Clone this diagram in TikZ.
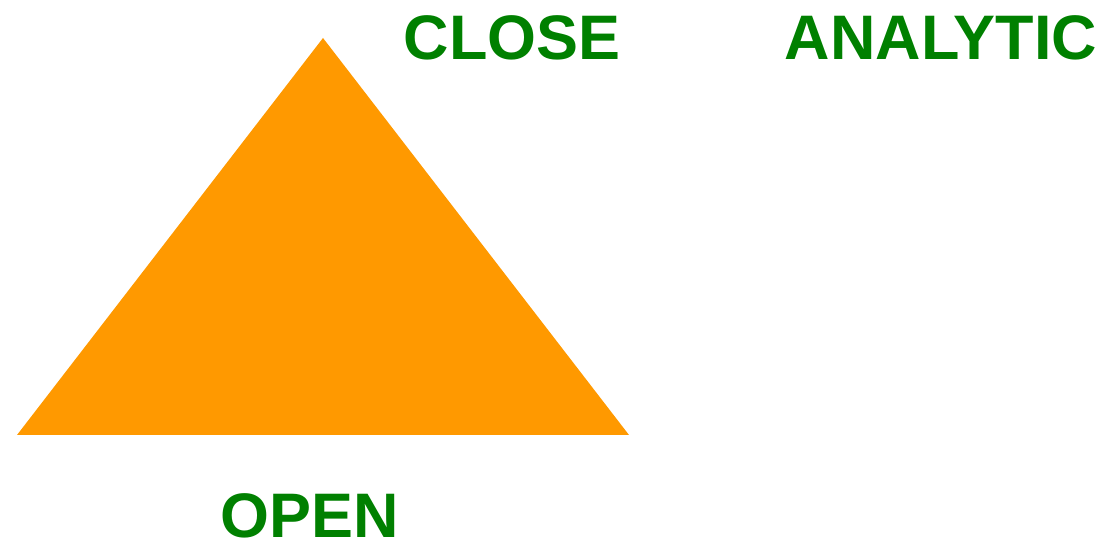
\documentclass[tikz,border=0pt]{standalone}
\usepackage{fontspec}
\setmainfont{Liberation Sans}
\usepackage{tikz}
\usepackage{xcolor}
\usetikzlibrary{positioning}
\definecolor{warmorange}{RGB}{255, 153, 0}
\definecolor{labelgreen}{RGB}{0, 128, 0}

\begin{document}
\begin{tikzpicture}[x=0.02cm, y=-0.02cm,
    cornerlabel/.style={text=labelgreen, anchor=base, inner sep=0pt, font=\fontsize{35.8}{40}\selectfont\bfseries}]
        \useasboundingbox (0,0) rectangle (1109,546);

        % Triangle
        \coordinate (apex) at (323,38);
        \coordinate (left) at (17,435);
        \coordinate (right) at (629,435);
        \fill[warmorange] (apex) -- (left) -- (right) -- cycle;

        % Labels
        \node[cornerlabel] (close) at (512,60) {CLOSE};
        \node[cornerlabel] (analytic) at (941,60) {ANALYTIC};
        \node[cornerlabel] (open) at (310,538) {OPEN};
    \end{tikzpicture}
\end{document}
